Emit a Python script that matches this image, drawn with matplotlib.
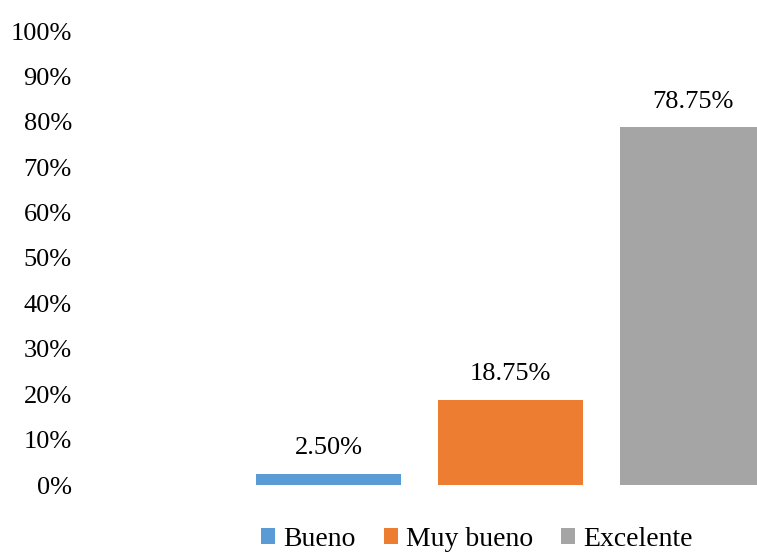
import matplotlib.pyplot as plt
from matplotlib.patches import Patch
from matplotlib.ticker import PercentFormatter

plt.rcParams['font.family'] = ['Liberation Serif', 'DejaVu Serif']

categories = ['Bueno', 'Muy bueno', 'Excelente']
values = [2.50, 18.75, 78.75]
value_labels = ['2.50%', '18.75%', '78.75%']
colors = ['#5B9BD5', '#ED7D31', '#A5A5A5']
yticks = list(range(0, 101, 10))

fig = plt.figure(figsize=(7.57, 5.52), dpi=100)
ax = fig.add_axes([85 / 757, 1 - 485 / 552, 672 / 757, 454 / 552])

x = list(range(len(categories)))
bars = ax.bar(x, values, width=0.8, color=colors)

for xi, v, lab in zip(x, values, value_labels):
    ax.annotate(lab, (xi, v), xytext=(0, 18.5), textcoords='offset points',
                ha='center', va='center', fontsize=19)

ax.set_xlim((85 - 328.5) / 182, (757 - 328.5) / 182)
ax.set_ylim(0, 100)
ax.set_yticks(yticks)
ax.yaxis.set_major_formatter(PercentFormatter(decimals=0))
ax.tick_params(axis='y', length=0, pad=9.5, labelsize=19)
ax.set_xticks([])
for s in ax.spines.values():
    s.set_visible(False)

handles = [Patch(facecolor=c, edgecolor='none') for c in colors]
fig.legend(handles, categories, loc='center', bbox_to_anchor=(477 / 757, 1 - 539 / 552),
           ncol=3, frameon=False, fontsize=20, handlelength=0.5, handleheight=0.5,
           handletextpad=0.3, columnspacing=1.0)

fig.savefig('out.png', dpi=100)
